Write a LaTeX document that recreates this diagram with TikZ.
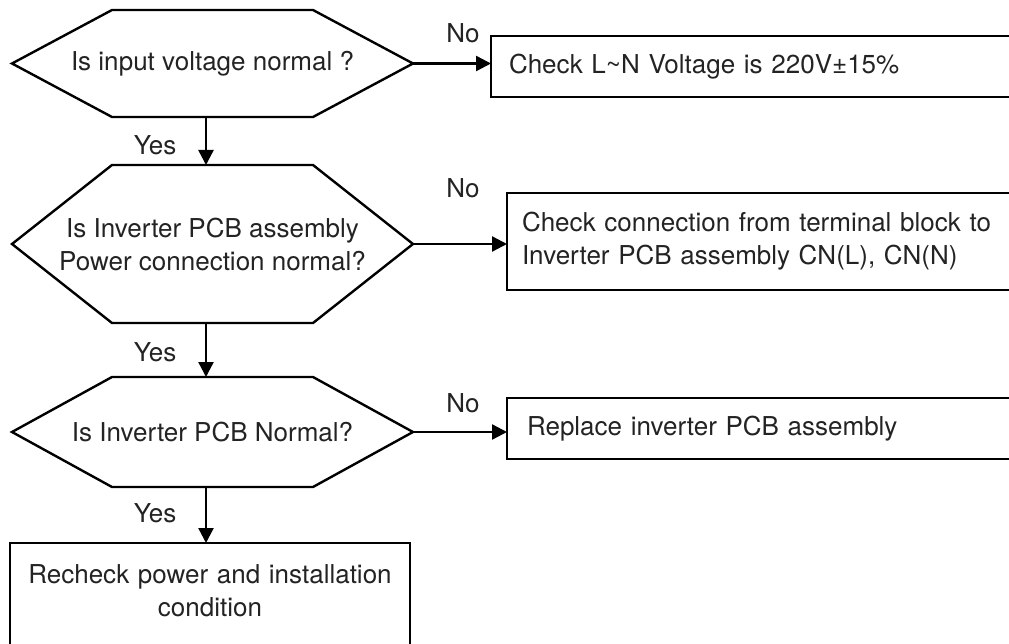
\documentclass[tikz,border=0pt]{standalone}
\usepackage{fontspec}
\setmainfont{TeX Gyre Heros}
\usepackage{tikz}
\usetikzlibrary{positioning, calc, arrows.meta}
\definecolor{inkgray}{RGB}{35,35,35}

\tikzset{
  flowline/.style={line width=2.4pt, draw=black},
  flowarrow/.style={flowline, -{Triangle[length=15pt, width=15pt]}},
  decision/.style={inner sep=0pt, outer sep=0pt, minimum width=401pt,
        align=center, text=inkgray},
  actbox/.style={draw=black, line width=2.4pt, inner xsep=18pt, outer sep=0pt,
        text width=520pt, align=left, text=inkgray},
  endbox/.style={draw=black, line width=2.4pt, inner ysep=22pt, inner xsep=0pt,
        outer sep=0pt, text width=400pt, align=center, text=inkgray,
        text depth=110pt},
  lbl/.style={text=inkgray}
}
\newcommand{\hexoutline}[1]{%
  \draw[flowline] (#1.west) -- ([xshift=100pt]#1.north west)
    -- ([xshift=-100pt]#1.north east) -- (#1.east)
    -- ([xshift=-100pt]#1.south east) -- ([xshift=100pt]#1.south west) -- cycle;}

\begin{document}
\begin{tikzpicture}[x=1pt, y=-1pt,
    every node/.style={font=\fontsize{26}{33}\selectfont}]
  \useasboundingbox (0,0) rectangle (1009,644);
  \clip (0,0) rectangle (1009,644);
  \coordinate (axis) at (206,0);

  % decisions
  \node[decision, minimum height=107pt] (volt) at (212.5,63.5) {Is input voltage normal ?};
  \node[decision, minimum height=158pt] (power) at (212.5,244) {Is Inverter PCB assembly\\Power connection normal?};
  \node[decision, minimum height=110pt] (pcb) at (212.5,432) {Is Inverter PCB Normal?};
  \hexoutline{volt}
  \hexoutline{power}
  \hexoutline{pcb}

  % actions
  \node[actbox, minimum height=61pt, anchor=north west] (chkvolt) at (491,36)
        {Check L\textasciitilde N Voltage is 220V±15\%};
  \node[actbox, minimum height=97pt, anchor=north west, inner xsep=15pt] (chkconn) at (507,193)
        {Check connection from terminal block to\\Inverter PCB assembly CN(L), CN(N)};
  \node[actbox, minimum height=61pt, anchor=north west, inner xsep=20pt] (replace) at (507,398)
        {Replace inverter PCB assembly};
  \node[endbox, anchor=north] (recheck) at (210,543)
        {Recheck power and installation\\condition};

  % yes branches
  \draw[flowarrow] (volt.south -| axis) -- (power.north -| axis);
  \draw[flowarrow] (power.south -| axis) -- (pcb.north -| axis);
  \draw[flowarrow] (pcb.south -| axis) -- (recheck.north -| axis);
  \node[lbl] (yes1) at (155,145) {Yes};
  \node[lbl] (yes2) at (155,352) {Yes};
  \node[lbl] (yes3) at (155,513) {Yes};

  % no branches
  \draw[flowarrow] (volt.east) -- (volt.east -| chkvolt.west);
  \draw[flowarrow] (power.east) -- (power.east -| chkconn.west);
  \draw[flowarrow] (pcb.east) -- (pcb.east -| replace.west);
  \node[lbl] (no1) at (463,33) {No};
  \node[lbl] (no2) at (463,188) {No};
  \node[lbl] (no3) at (463,403) {No};
\end{tikzpicture}
\end{document}
